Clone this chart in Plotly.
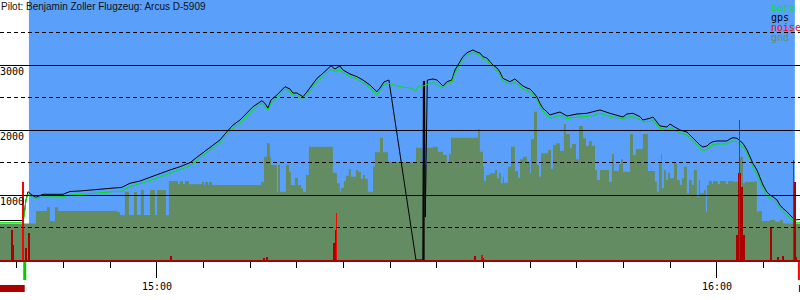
import math
import plotly.graph_objects as go

DAY = "2023-06-10 "

title_text = "Pilot: Benjamin Zoller Flugzeug: Arcus D-5909"

# ---- barometric altitude (m) ----
baro_time = ["14:43:11", "14:45:39", "14:45:45", "14:45:58", "14:46:11", "14:46:36", "14:47:02", "14:47:47",
             "14:49:56", "14:50:41", "14:51:45", "14:52:49", "14:54:26", "14:56:15", "14:57:06", "14:58:11",
             "14:59:15", "15:00:19", "15:01:24", "15:02:28", "15:03:32", "15:04:36", "15:05:41", "15:06:45",
             "15:07:30", "15:08:09", "15:08:54", "15:09:39", "15:10:17", "15:11:15", "15:11:34", "15:11:54",
             "15:12:13", "15:12:51", "15:13:43", "15:14:15", "15:14:34", "15:15:00", "15:15:39", "15:16:04",
             "15:16:43", "15:17:09", "15:17:47", "15:18:39", "15:19:04", "15:19:36", "15:19:56", "15:20:41",
             "15:21:26", "15:22:04", "15:22:49", "15:23:34", "15:23:54", "15:24:19", "15:24:51", "15:26:02",
             "15:27:06", "15:27:45", "15:27:58", "15:28:30", "15:29:15", "15:29:34", "15:30:00", "15:30:39",
             "15:31:04", "15:31:36", "15:31:56", "15:32:28", "15:32:47", "15:33:13", "15:33:32", "15:33:51",
             "15:34:17", "15:34:36", "15:34:56", "15:35:21", "15:35:41", "15:36:00", "15:36:26", "15:36:45",
             "15:37:04", "15:37:30", "15:37:49", "15:38:21", "15:38:54", "15:39:13", "15:39:39", "15:39:58",
             "15:40:17", "15:40:43", "15:41:02", "15:41:21", "15:41:47", "15:42:06", "15:42:26", "15:43:11",
             "15:43:56", "15:45:00", "15:46:04", "15:46:43", "15:47:28", "15:48:32", "15:49:17", "15:49:56",
             "15:50:21", "15:51:00", "15:51:45", "15:52:04", "15:52:49", "15:53:09", "15:53:34", "15:53:54",
             "15:54:39", "15:54:58", "15:55:17", "15:56:02", "15:56:47", "15:57:06", "15:57:26", "15:57:51",
             "15:58:11", "15:58:30", "15:58:56", "15:59:15", "15:59:34", "16:00:00", "16:01:04", "16:01:24",
             "16:01:43", "16:02:09", "16:02:28", "16:02:47", "16:03:13", "16:03:32", "16:03:51", "16:04:17",
             "16:04:36", "16:04:56", "16:05:21", "16:05:41", "16:06:00", "16:06:26", "16:06:45", "16:07:04",
             "16:07:30", "16:07:49", "16:08:09", "16:08:21", "16:08:54"]
baro_alt = [575, 575, 646, 923, 1015, 969, 949, 969,
            974, 1000, 1008, 1023, 1046, 1062, 1128, 1169,
            1220, 1277, 1334, 1385, 1446, 1569, 1692, 1800,
            1923, 2031, 2108, 2215, 2308, 2415, 2369, 2308,
            2415, 2492, 2631, 2585, 2538, 2531, 2485, 2538,
            2669, 2746, 2823, 2931, 2900, 2923, 2885, 2823,
            2785, 2731, 2654, 2538, 2600, 2692, 2718, 2667,
            2646, 2605, 2677, 2677, 2718, 2738, 2692, 2651,
            2718, 2738, 2877, 3000, 3085, 3154, 3177, 3189,
            3169, 3154, 3092, 3069, 3008, 2954, 2908, 2846,
            2754, 2723, 2708, 2731, 2677, 2631, 2600, 2585,
            2538, 2462, 2369, 2292, 2231, 2185, 2192, 2223,
            2174, 2200, 2208, 2223, 2257, 2208, 2192, 2169,
            2200, 2205, 2162, 2123, 2131, 2154, 2077, 2026,
            2000, 2038, 2015, 1954, 1923, 1872, 1823, 1769,
            1718, 1685, 1700, 1746, 1777, 1785, 1785, 1815,
            1831, 1823, 1785, 1738, 1638, 1538, 1431, 1323,
            1200, 1092, 992, 949, 923, 869, 795, 746,
            692, 642, 600, 575, 575]

# ---- GPS altitude (m), including the short fix dropout ----
gps_time = ["14:43:11", "14:45:39", "14:45:45", "14:45:58", "14:46:11", "14:46:36", "14:47:02", "14:47:47",
            "14:49:56", "14:50:41", "14:51:45", "14:52:49", "14:54:26", "14:56:15", "14:57:06", "14:58:11",
            "14:59:15", "15:00:19", "15:01:24", "15:02:28", "15:03:32", "15:04:36", "15:05:41", "15:06:45",
            "15:07:30", "15:08:09", "15:08:54", "15:09:39", "15:10:17", "15:11:15", "15:11:34", "15:11:54",
            "15:12:13", "15:12:51", "15:13:43", "15:14:15", "15:14:34", "15:15:00", "15:15:39", "15:16:04",
            "15:16:43", "15:17:09", "15:17:47", "15:18:39", "15:19:04", "15:19:36", "15:19:56", "15:20:41",
            "15:21:26", "15:22:04", "15:22:49", "15:23:34", "15:23:54", "15:24:19", "15:24:51",
            "15:27:45", "15:28:29", "15:28:33", "15:28:36", "15:28:40", "15:28:45", "15:28:48", "15:28:54",
            "15:28:58", "15:29:02", "15:29:34", "15:30:00", "15:30:19", "15:30:39",
            "15:31:04", "15:31:36", "15:31:56", "15:32:28", "15:32:47", "15:33:13", "15:33:32", "15:33:51",
            "15:34:17", "15:34:36", "15:34:56", "15:35:21", "15:35:41", "15:36:00", "15:36:26", "15:36:45",
            "15:37:04", "15:37:30", "15:37:49", "15:38:21", "15:38:54", "15:39:13", "15:39:39", "15:39:58",
            "15:40:17", "15:40:43", "15:41:02", "15:41:21", "15:41:47", "15:42:06", "15:42:26", "15:43:11",
            "15:43:56", "15:45:00", "15:46:04", "15:46:43", "15:47:28", "15:48:32", "15:49:17", "15:49:56",
            "15:50:21", "15:51:00", "15:51:45", "15:52:04", "15:52:49", "15:53:09", "15:53:34", "15:53:54",
            "15:54:39", "15:54:58", "15:55:17", "15:56:02", "15:56:47", "15:57:06", "15:57:26", "15:57:51",
            "15:58:11", "15:58:30", "15:58:56", "15:59:15", "15:59:34", "16:00:00", "16:01:04", "16:01:24",
            "16:01:43", "16:02:09", "16:02:28", "16:02:47", "16:03:13", "16:03:32", "16:03:51", "16:04:17",
            "16:04:36", "16:04:56", "16:05:21", "16:05:41", "16:06:00", "16:06:26", "16:06:45", "16:07:04",
            "16:07:30", "16:07:49", "16:08:09", "16:08:21", "16:08:54"]
gps_alt = [608, 608, 692, 923, 1051, 1000, 965, 1011,
           1011, 1054, 1062, 1077, 1097, 1118, 1180, 1215,
           1272, 1334, 1385, 1435, 1497, 1615, 1738, 1846,
           1974, 2077, 2154, 2262, 2358, 2451, 2411, 2338,
           2462, 2538, 2666, 2631, 2569, 2569, 2512, 2585,
           2718, 2795, 2872, 2989, 2938, 2985, 2923, 2862,
           2820, 2769, 2692, 2589, 2646, 2738, 2769,
           0, 0, 2754, 0, 2754, 662, 1385, 2051,
           2769, 2769, 2785, 2769, 2723, 2677,
           2743, 2769, 2923, 3046, 3128, 3189, 3205, 3231,
           3200, 3185, 3128, 3108, 3051, 3000, 2954, 2892,
           2795, 2769, 2743, 2785, 2718, 2677, 2646, 2631,
           2585, 2508, 2411, 2334, 2282, 2231, 2246, 2277,
           2215, 2246, 2257, 2277, 2308, 2257, 2220, 2200,
           2246, 2257, 2205, 2154, 2180, 2200, 2123, 2062,
           2046, 2092, 2062, 2000, 1969, 1923, 1872, 1820,
           1769, 1738, 1754, 1795, 1820, 1831, 1831, 1862,
           1882, 1872, 1831, 1795, 1692, 1589, 1488, 1385,
           1257, 1154, 1046, 1000, 974, 923, 846, 795,
           743, 692, 642, 615, 623]

# ---- ground elevation (m), step samples ----
gnd_time = ["14:43:11", "14:47:02", "14:48:13", "14:48:32", "14:49:04", "14:49:24", "14:55:43", "14:56:02",
            "14:56:34", "14:57:00", "14:57:32", "14:57:51", "14:58:17", "14:58:36", "14:59:15", "14:59:47",
            "15:00:00", "15:00:58", "15:01:17", "15:02:15", "15:02:28", "15:02:47", "15:03:00", "15:03:26",
            "15:04:49", "15:05:02", "15:05:09", "15:05:28", "15:05:34", "15:05:54", "15:11:09", "15:11:28",
            "15:11:47", "15:12:06", "15:12:13", "15:12:51", "15:12:58", "15:13:11", "15:13:49", "15:14:09",
            "15:14:21", "15:14:47", "15:15:06", "15:15:26", "15:15:39", "15:15:58", "15:16:17", "15:18:51",
            "15:19:17", "15:19:36", "15:19:43", "15:20:02", "15:20:15", "15:20:34", "15:20:47", "15:21:19",
            "15:21:32", "15:21:51", "15:22:04", "15:22:17", "15:22:36", "15:23:09", "15:23:21", "15:23:54",
            "15:24:13", "15:24:45", "15:26:02", "15:27:45", "15:28:24", "15:28:56", "15:29:34", "15:30:06",
            "15:30:39", "15:31:04", "15:31:17", "15:31:30", "15:34:24", "15:34:36", "15:34:56", "15:35:02",
            "15:35:15", "15:35:41", "15:36:13", "15:36:26", "15:36:39", "15:36:51", "15:37:04", "15:37:11",
            "15:37:36", "15:37:56", "15:38:21", "15:38:41", "15:38:54", "15:39:13", "15:39:39", "15:39:58",
            "15:40:04", "15:40:24", "15:40:43", "15:40:56", "15:41:09", "15:41:54", "15:42:13", "15:42:26",
            "15:42:45", "15:43:11", "15:43:36", "15:43:49", "15:44:15", "15:44:28", "15:44:54", "15:45:13",
            "15:45:39", "15:45:58", "15:46:17", "15:46:36", "15:46:56", "15:47:09", "15:47:28", "15:48:26",
            "15:48:45", "15:48:58", "15:49:30", "15:49:43", "15:49:56", "15:50:41", "15:51:00", "15:51:19",
            "15:52:04", "15:52:36", "15:53:21", "15:53:34", "15:53:47", "15:54:00", "15:54:06", "15:54:19",
            "15:54:32", "15:54:45", "15:54:58", "15:55:24", "15:55:43", "15:56:02", "15:56:15", "15:56:28",
            "15:56:47", "15:57:00", "15:57:19", "15:57:32", "15:57:51", "15:58:04", "15:58:11", "15:58:36",
            "15:58:49", "15:58:56", "15:59:09", "15:59:28", "15:59:34", "16:00:06", "16:00:19", "16:00:58",
            "16:01:11", "16:01:43", "16:02:28", "16:02:47", "16:03:00", "16:04:17", "16:04:30", "16:04:49",
            "16:05:41", "16:06:13", "16:06:45", "16:07:04", "16:08:54"]
gnd_alt = [560, 754, 810, 600, 810, 754, 738, 692,
           1051, 692, 1046, 692, 1077, 692, 1077, 692,
           1077, 692, 1215, 1169, 1215, 1169, 1215, 1164,
           1200, 1154, 1200, 1154, 1200, 1154, 1200, 1590,
           1795, 1590, 1462, 1051, 1462, 1051, 1462, 1359,
           1154, 1267, 1154, 1103, 1051, 1308, 1744, 1344,
           1180, 1051, 1113, 1215, 1297, 1400, 1282, 1385,
           1359, 1246, 1308, 1246, 1051, 1436, 1656, 1882,
           1656, 1513, 1503, 1728, 1462, 1728, 1744, 1667,
           1615, 1503, 1631, 1882, 2015, 1667, 1436, 1215,
           1308, 1334, 1385, 1257, 1334, 1180, 1282, 1190,
           1436, 1744, 1369, 1267, 1549, 1590, 1513, 1334,
           1862, 2282, 1462, 1282, 1641, 1692, 1400, 1769,
           1795, 1677, 2092, 1938, 1718, 1785, 1549, 2062,
           1872, 1759, 1831, 1759, 1385, 1231, 1385, 1205,
           1631, 1374, 1472, 1549, 1359, 1938, 1615, 1708,
           1938, 1369, 1205, 1051, 1487, 1631, 1103, 1385,
           1231, 1344, 1257, 1487, 1231, 1154, 1257, 1436,
           1026, 1231, 1154, 1385, 974, 1231, 1026, 1077,
           744, 1154, 1215, 1169, 1215, 1169, 1215, 1169,
           1215, 1205, 1590, 1180, 1205, 744, 754, 600,
           615, 590, 615, 560, 560]

# ---- engine noise level (0..1000) ----
noise_time = ["14:44:25", "14:44:34", "14:45:55", "14:46:20", "15:01:30", "15:11:28", "15:11:47",
              "15:18:58", "15:19:08", "15:34:04", "15:34:56",
              "16:02:12", "16:02:18", "16:02:25", "16:02:31", "16:02:38", "16:02:44", "16:02:50", "16:02:57",
              "16:05:50", "16:06:32", "16:07:04", "16:08:15", "16:08:21", "16:08:30"]
noise_val = [115, 58, 46, 104, 15, 5, 12,
             65, 115, 15, 9,
             96, 96, 335, 335, 280, 212, 96, 96,
             123, 12, 15, 300, 300, 13]
noise_peak_time = ["14:45:39", "15:19:14", "15:34:49", "16:02:25", "16:08:11"]
noise_peak_val = [300, 182, 19, 538, 385]

# ---- axes / events ----
view_start, view_end = "14:43:11", "16:08:54"
sky_start, sky_end = "14:46:17", "16:08:21"
takeoff_time, landing_time = "14:45:50", "16:08:47"
hour_ticks = ["15:00", "16:00"]
half_hour_ticks = ["15:30"]
alt_range = [0, 4000]
alt_major = [1000, 2000, 3000]
alt_minor = [500, 1500, 2500, 3500]
legend_names = ["baro", "gps", "noise", "gnd"]

SKY = "#5aa0fa"
GND = "#638c63"
BARO = "#00e600"
GPS = "#000000"
NOISE = "#ff0000"
NOISE_DARK = "#aa0000"
MONO = "DejaVu Sans Mono"
PLOT_H = 260  # plot-area height in px (figure 300 minus bottom margin 40)


def ts(t):
    return DAY + t


def snap(v):
    """paper-y of an altitude, snapped to a pixel centre so 1px grid lines are crisp"""
    pix = PLOT_H * (1 - (v - alt_range[0]) / (alt_range[1] - alt_range[0]))
    return 1 - (math.floor(pix) + 0.5) / PLOT_H


fig = go.Figure()

fig.add_trace(go.Scatter(x=[ts(t) for t in gnd_time], y=gnd_alt, mode="lines",
                         line=dict(width=0, shape="hv"), fill="tozeroy", fillcolor=GND,
                         hoverinfo="skip", name="gnd"))
fig.add_trace(go.Scatter(x=[ts(t) for t in gps_time], y=gps_alt, mode="lines",
                         line=dict(color=GPS, width=1), name="gps"))
fig.add_trace(go.Scatter(x=[ts(t) for t in baro_time], y=baro_alt, mode="lines",
                         line=dict(color=BARO, width=1), name="baro"))
fig.add_trace(go.Bar(x=[ts(t) for t in noise_time], y=noise_val, yaxis="y2", width=6400,
                     marker=dict(color=NOISE_DARK, line=dict(width=0)), name="noise"))
fig.add_trace(go.Bar(x=[ts(t) for t in noise_peak_time], y=noise_peak_val, yaxis="y2", width=4000,
                     marker=dict(color=NOISE, line=dict(width=0)), name="noise peak"))

shapes = [dict(type="rect", xref="x", yref="paper", x0=ts(sky_start), x1=ts(sky_end), y0=0, y1=1,
               fillcolor=SKY, line=dict(width=0), layer="below")]
for v in alt_major:
    shapes.append(dict(type="line", xref="paper", yref="paper", x0=0, x1=1, y0=snap(v), y1=snap(v),
                       line=dict(color="black", width=1), layer="above"))
for v in alt_minor:
    shapes.append(dict(type="line", xref="paper", yref="paper", x0=0, x1=1, y0=snap(v), y1=snap(v),
                       line=dict(color="black", width=1, dash="4px,3px"), layer="above"))
# takeoff / landing markers and out-of-flight status bar below the axis
shapes.append(dict(type="line", xref="x", yref="paper", x0=ts(takeoff_time), x1=ts(takeoff_time),
                   y0=-0.008, y1=-0.077, line=dict(color="#00cc00", width=3)))
shapes.append(dict(type="line", xref="x", yref="paper", x0=ts(landing_time), x1=ts(landing_time),
                   y0=-0.008, y1=-0.077, line=dict(color=NOISE, width=2)))
shapes.append(dict(type="rect", xref="x", yref="paper", x0=ts(view_start), x1=ts(takeoff_time),
                   y0=-0.096, y1=-0.123, fillcolor=NOISE_DARK, line=dict(width=0)))
shapes.append(dict(type="rect", xref="x", yref="paper", x0=ts(landing_time), x1=ts(view_end),
                   y0=-0.096, y1=-0.123, fillcolor=NOISE_DARK, line=dict(width=0)))

annotations = [dict(text=title_text, xref="paper", yref="paper", x=0, y=1, xanchor="left", yanchor="top",
                    showarrow=False, font=dict(family="Liberation Sans", size=10, color="#111111"),
                    borderpad=0)]
for v in alt_major:
    annotations.append(dict(text=str(v), xref="paper", yref="y", x=0, y=v, xanchor="left", yanchor="top",
                            showarrow=False, font=dict(family=MONO, size=10, color="black"), borderpad=0,
                            xshift=-1))
leg_colors = [BARO, GPS, NOISE, GND]
for i, (name, col) in enumerate(zip(legend_names, leg_colors)):
    annotations.append(dict(text=name, xref="paper", yref="paper", x=770 / 800, y=1 - (7.5 + 10 * i) / PLOT_H,
                            xanchor="left", yanchor="middle", showarrow=False,
                            font=dict(family=MONO, size=10, color=col), borderpad=0))

fig.update_layout(
    width=800, height=300,
    margin=dict(l=0, r=0, t=0, b=40),
    paper_bgcolor="white", plot_bgcolor="white",
    showlegend=False, barmode="overlay", bargap=0,
    shapes=shapes, annotations=annotations,
    xaxis=dict(type="date", range=[ts(view_start), ts(view_end)],
               tickvals=[ts(h) for h in hour_ticks], ticktext=hour_ticks,
               ticks="outside", ticklen=16, tickwidth=1, tickcolor="black",
               tickfont=dict(family=MONO, size=10, color="black"),
               showline=True, linecolor=NOISE_DARK, linewidth=2,
               showgrid=False, zeroline=False, fixedrange=True,
               minor=dict(ticks="outside", dtick=300000, tick0=ts("15:00"), ticklen=6,
                          tickcolor="black", tickwidth=1, showgrid=False)),
    xaxis2=dict(type="date", overlaying="x", anchor="y", side="bottom",
                range=[ts(view_start), ts(view_end)],
                tickvals=[ts(h) for h in half_hour_ticks], ticks="outside", ticklen=11,
                tickwidth=1, tickcolor="black", showticklabels=False,
                showgrid=False, zeroline=False, showline=False, fixedrange=True),
    yaxis=dict(range=alt_range, visible=False, fixedrange=True),
    yaxis2=dict(range=[0, 1000], overlaying="y", visible=False, fixedrange=True),
)

fig.write_html("out.html")
